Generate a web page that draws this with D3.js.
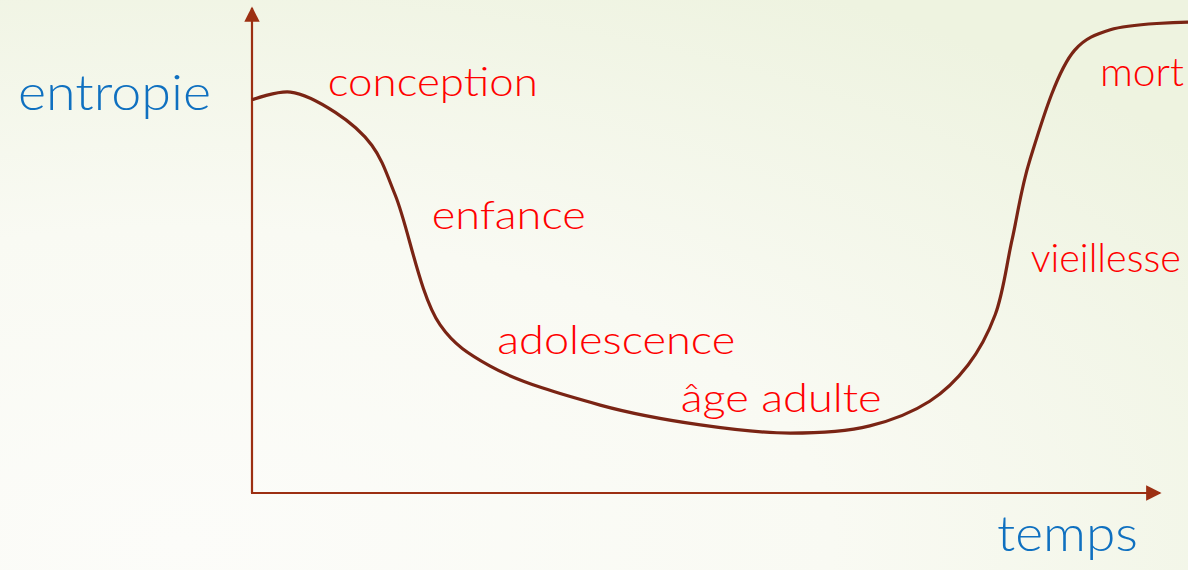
<!DOCTYPE html>
<html>
<head>
  <meta charset="UTF-8">
  <style>
    body { margin: 0; }
    svg { display: block; }
    .lbl { font-family: "Lato", "Open Sans", sans-serif; }
  </style>
</head>
<body>
  <svg></svg>
  <script src="https://d3js.org/d3.v7.min.js"></script>
  <script>
    // curve : temps (0..100) / entropie (0..100)
    let temps = [0, 4.1, 8.9, 12.8, 15.3, 20.1, 25.4, 37.2, 47.9, 57.5, 66.0, 72.4, 76.5, 79.4, 81.2, 83.1, 87.9, 91.7, 100];
    let entropie = [81.4, 83.0, 78.8, 72.0, 61.7, 34.8, 26.3, 18.2, 14.1, 12.4, 13.9, 19.0, 26.5, 36.9, 52.4, 68.9, 91.7, 95.9, 97.5];

    // phase labels, anchored in data space
    let phases = ["conception", "enfance", "adolescence", "âge adulte", "vieillesse", "mort"];
    let phaseT = [8.1, 19.2, 26.2, 45.8, 83.2, 90.6];
    let phaseE = [82.2, 54.7, 28.8, 16.8, 45.7, 84.3];
    let phaseW = [210, 154, 238, 201, 150, 84];

    let width = 1188, height = 570;

    let svg = d3.select("svg")
      .attr("width", width)
      .attr("height", height);

    let x = d3.scaleLinear().domain([0, 100]).range([252, 1188]);
    let y = d3.scaleLinear().domain([0, 100]).range([493, 10]);

    // background
    let defs = svg.append("defs");
    let grad = defs.append("radialGradient")
      .attr("id", "bg")
      .attr("cx", "15%").attr("cy", "95%").attr("r", "110%");
    grad.append("stop").attr("offset", "0%").attr("stop-color", "#fcfcf9");
    grad.append("stop").attr("offset", "50%").attr("stop-color", "#f9faf3");
    grad.append("stop").attr("offset", "100%").attr("stop-color", "#eef3e0");

    svg.append("rect")
      .attr("width", width).attr("height", height)
      .attr("fill", "url(#bg)");

    defs.append("marker")
      .attr("id", "arrow")
      .attr("viewBox", "0 0 10 10")
      .attr("refX", 9).attr("refY", 5)
      .attr("markerWidth", 7).attr("markerHeight", 7)
      .attr("markerUnits", "strokeWidth")
      .attr("orient", "auto")
      .append("path")
      .attr("d", "M0,0L10,5L0,10Z")
      .attr("fill", "#9c2f12");

    // axes
    svg.append("line")
      .attr("x1", x(0)).attr("y1", y(0))
      .attr("x2", x(0)).attr("y2", 8)
      .attr("stroke", "#9c2f12").attr("stroke-width", 2.2)
      .attr("marker-end", "url(#arrow)");

    svg.append("line")
      .attr("x1", x(0) - 1).attr("y1", y(0))
      .attr("x2", 1160).attr("y2", y(0))
      .attr("stroke", "#9c2f12").attr("stroke-width", 2.2)
      .attr("marker-end", "url(#arrow)");

    // entropy curve
    let line = d3.line()
      .x((d, i) => x(temps[i]))
      .y(d => y(d))
      .curve(d3.curveCatmullRom.alpha(0.5));

    svg.append("path")
      .datum(entropie)
      .attr("d", line)
      .attr("fill", "none")
      .attr("stroke", "#7a2414")
      .attr("stroke-width", 3.2);

    // labels
    svg.selectAll(".phase")
      .data(phases)
      .enter()
      .append("text")
      .attr("class", "lbl phase")
      .attr("x", (d, i) => x(phaseT[i]))
      .attr("y", (d, i) => y(phaseE[i]))
      .attr("textLength", (d, i) => phaseW[i])
      .attr("lengthAdjust", "spacingAndGlyphs")
      .attr("font-size", 39)
      .attr("font-weight", 300)
      .attr("fill", "#ff0000")
      .text(d => d);

    svg.append("text")
      .attr("class", "lbl")
      .attr("x", 18).attr("y", 110)
      .attr("textLength", 193)
      .attr("lengthAdjust", "spacingAndGlyphs")
      .attr("font-size", 49)
      .attr("font-weight", 300)
      .attr("fill", "#0f70c0")
      .text("entropie");

    svg.append("text")
      .attr("class", "lbl")
      .attr("x", 997).attr("y", 551)
      .attr("textLength", 141)
      .attr("lengthAdjust", "spacingAndGlyphs")
      .attr("font-size", 49)
      .attr("font-weight", 300)
      .attr("fill", "#0f70c0")
      .text("temps");
  </script>
</body>
</html>
